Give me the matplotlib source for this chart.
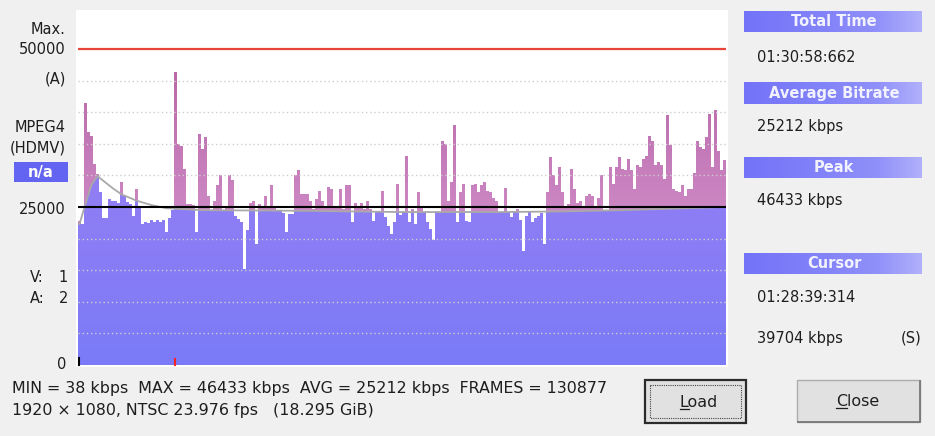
import numpy as np
import matplotlib.pyplot as plt
from matplotlib.colors import LinearSegmentedColormap
from matplotlib.patches import Rectangle

plt.rcParams["font.family"] = ["DejaVu Sans"]

BG = "#f0f0f0"
PURPLE = "#897cf7"
PINK = "#c67bbc"
TEXT = "#1e1e1e"
FS = 10.5
FS_BOTTOM = 11.4

# bitrate per time slice (kbps) left to right
bitrate_kbps = [
    22800, 22300, 41500, 36800, 36300, 31800, 30200, 27300, 23200, 23200, 26300, 26000,
    25900, 25700, 29000, 26800, 25800, 25500, 23600, 27900, 25200, 22300, 22600, 22400,
    23000, 22700, 23000, 22600, 22900, 21000, 23300, 24500, 46433, 35000, 34600, 31000,
    25400, 25400, 25300, 21000, 36600, 34200, 36000, 26800, 24400, 26000, 28400, 30000,
    24600, 25200, 30000, 29200, 23600, 23100, 22600, 15200, 21300, 25700, 25900, 19100,
    25500, 25000, 26800, 25200, 28400, 25200, 24400, 24300, 24100, 21000, 23900, 23900,
    30000, 30800, 27000, 27000, 27000, 25900, 24700, 26300, 27600, 26000, 25200, 28100,
    27900, 25200, 25100, 27900, 24700, 28400, 28400, 22600, 25700, 25200, 25700, 24700,
    26000, 24700, 22800, 24200, 24200, 27600, 23400, 22000, 20700, 22600, 28600, 23800,
    24200, 33100, 22600, 24700, 22300, 27300, 25200, 24200, 22600, 21500, 19700, 24400,
    24200, 35500, 35000, 26000, 28900, 37900, 22600, 27300, 28600, 22800, 22600, 28400,
    28600, 27300, 28400, 29000, 27600, 27300, 26500, 26000, 24200, 24200, 28000, 24200,
    23400, 24200, 24700, 23000, 18100, 23600, 24200, 22600, 23200, 23600, 24000, 19100,
    27300, 32900, 30000, 28400, 31300, 27300, 25200, 25500, 31000, 27900, 25700, 26000,
    25200, 26800, 27000, 26800, 25200, 26500, 30000, 24400, 24400, 31300, 28600, 31300,
    32900, 31000, 30800, 32600, 30800, 27900, 31600, 31300, 32600, 33100, 36300, 35500,
    31600, 32100, 31600, 29400, 39500, 34800, 27900, 27600, 27300, 28400, 26800, 27900,
    27900, 30300, 35500, 34500, 34200, 36000, 39704, 31300, 40300, 33900, 30800, 32500,
]

# running average (grey curve), read at a few slice positions
avg_pos = [0, 2, 4, 6, 7, 11, 14, 19, 24, 29, 41, 74, 107, 141, 161, 181, 201, 215]
avg_kbps = [22300, 25500, 28500, 29900, 29500, 28000, 27000, 26000, 25300, 24800,
            24500, 24400, 24200, 24200, 24300, 24500, 24800, 25000]

peak_index = 32
max_line = 50000
mid_line = 25000
grid_levels = [5000, 10000, 15000, 20000, 30000, 35000, 40000, 45000]
y_top = 55850

left_labels = [("Max.", 30), ("50000", 50), ("(A)", 79), ("MPEG4", 127),
               ("(HDMV)", 148), ("25000", 209), ("0", 364)]
stream_labels = [("V:", "1", 277), ("A:", "2", 298)]
panel_headers = [("Total Time", 11), ("Average Bitrate", 83), ("Peak", 157), ("Cursor", 253)]
panel_values = [("01:30:58:662", 57), ("25212 kbps", 126), ("46433 kbps", 200),
                ("01:28:39:314", 297), ("39704 kbps", 338)]
summary_line1 = "MIN = 38 kbps  MAX = 46433 kbps  AVG = 25212 kbps  FRAMES = 130877"
summary_line2 = "1920 \u00d7 1080, NTSC 23.976 fps   (18.295 GiB)"
buttons = [("Load", 699, 402), ("Close", 858, 401)]

fig = plt.figure(figsize=(9.35, 4.36), dpi=100, facecolor=BG)
fig.patches.append(Rectangle((76 / 935, 69 / 436), 652 / 935, 357 / 436,
                             transform=fig.transFigure, fc="white", ec="none", zorder=-5))

ax = fig.add_axes([78 / 935, 71 / 436, 648 / 935, 353 / 436], zorder=1)
vals = np.array(bitrate_kbps, dtype=float)
n = len(vals)
idx = np.arange(n)
edges = np.arange(n + 1) - 0.5
thr = np.interp(idx, avg_pos, avg_kbps)

low = ax.stairs(np.minimum(vals, thr), edges, baseline=0, fill=True,
                color=PURPLE, lw=0, zorder=1)
high = ax.stairs(np.maximum(vals, thr), edges, baseline=thr, fill=True,
                 color=PINK, lw=0, zorder=1)

# vertical colour shading, clipped to the two filled areas
vgrad = np.linspace(0, 1, 256).reshape(-1, 1)
low_cmap = LinearSegmentedColormap.from_list("low", ["#7b7bf8", "#937ef3"])
high_cmap = LinearSegmentedColormap.from_list("high", ["#cc88c4", "#b967a9"])
im_low = ax.imshow(vgrad, cmap=low_cmap, origin="lower", aspect="auto",
                   extent=(edges[0], edges[-1], 0, 31000), zorder=1.1)
im_low.set_clip_path(low)
im_high = ax.imshow(vgrad, cmap=high_cmap, origin="lower", aspect="auto",
                    extent=(edges[0], edges[-1], 24000, 47000), zorder=1.1)
im_high.set_clip_path(high)

for g in grid_levels:
    ax.axhline(g, color="#cdcdcd", lw=1, ls=(0, (1, 2)), zorder=2)
ax.plot(avg_pos, avg_kbps, color="#a9a9a9", lw=1.3, zorder=3)
ax.axhline(max_line, color="#e8443a", lw=1.6, zorder=4)
ax.axhline(mid_line, color="black", lw=1.5, zorder=4)

ax.plot([peak_index, peak_index], [0, 900], color="#ff2020", lw=1.5, clip_on=False, zorder=5)
ax.plot([-0.3, -0.3], [0, 1100], color="black", lw=1.5, clip_on=False, zorder=5)

ax.set_xlim(edges[0], edges[-1])
ax.set_ylim(0, y_top)
ax.set_xticks([])
ax.set_yticks([])
for s in ax.spines.values():
    s.set_visible(False)

# overlay in pixel coordinates for the dialog texts and widgets
ui = fig.add_axes([0, 0, 1, 1], zorder=2)
ui.patch.set_visible(False)
ui.axis("off")
ui.set_xlim(0, 935)
ui.set_ylim(436, 0)
ui.set_autoscale_on(False)

for txt, y in left_labels:
    ui.text(66, y, txt, ha="right", va="center", fontsize=FS, color=TEXT)
for a, b, y in stream_labels:
    ui.text(30, y, a, ha="left", va="center", fontsize=FS, color=TEXT)
    ui.text(68, y, b, ha="right", va="center", fontsize=FS, color=TEXT)

ui.add_patch(Rectangle((14, 162), 54, 20, fc="#6464f2", ec="none"))
ui.text(41, 172, "n/a", ha="center", va="center", fontsize=FS, color="white", weight="bold")

box_cmap = LinearSegmentedColormap.from_list(
    "hdr", ["#7373f8", "#7c7cf9", "#8585f9", "#9090fa", "#b0b0fc"])
grad = np.linspace(0, 1, 200).reshape(1, -1)
for txt, y0 in panel_headers:
    ui.imshow(grad, cmap=box_cmap, extent=(744, 922, y0 + 21, y0), aspect="auto",
              interpolation="bilinear")
    ui.text(834, y0 + 10.5, txt, ha="center", va="center", fontsize=FS,
            color="#f2f2ff", weight="bold")
for txt, y in panel_values:
    ui.text(757, y, txt, ha="left", va="center", fontsize=FS, color=TEXT)
ui.text(921, 338, "(S)", ha="right", va="center", fontsize=FS, color=TEXT)

ui.text(12, 388, summary_line1, ha="left", va="center", fontsize=FS_BOTTOM, color=TEXT)
ui.text(12, 410, summary_line2, ha="left", va="center", fontsize=FS_BOTTOM, color=TEXT)

ui.add_patch(Rectangle((645, 380), 101, 43, fc="#e1e1e1", ec="#2b2b2b", lw=1.6))
ui.add_patch(Rectangle((650, 385), 91, 33, fill=False, ec="#444444", ls=(0, (1, 1)), lw=0.8))
ui.add_patch(Rectangle((797, 380), 123, 42, fc="#e1e1e1", ec="#adadad", lw=1))
ui.plot([798, 920, 920], [422, 422, 381], color="#707070", lw=1.2)

renderer = fig.canvas.get_renderer()
to_data = ui.transData.inverted()
for label, cx, cy in buttons:
    t = ui.text(cx, cy, label, ha="center", va="center", fontsize=FS_BOTTOM, color=TEXT)
    bb = t.get_window_extent(renderer)
    first = ui.text(0, 0, label[0], fontsize=FS_BOTTOM)
    w = first.get_window_extent(renderer).width
    first.remove()
    (x0, y0), (x1, _) = to_data.transform([(bb.x0, bb.y0 + 1), (bb.x0 + w, bb.y0 + 1)])
    ui.plot([x0, x1], [y0, y0], color=TEXT, lw=0.9)

fig.savefig("out.png", dpi=100, facecolor=BG)
